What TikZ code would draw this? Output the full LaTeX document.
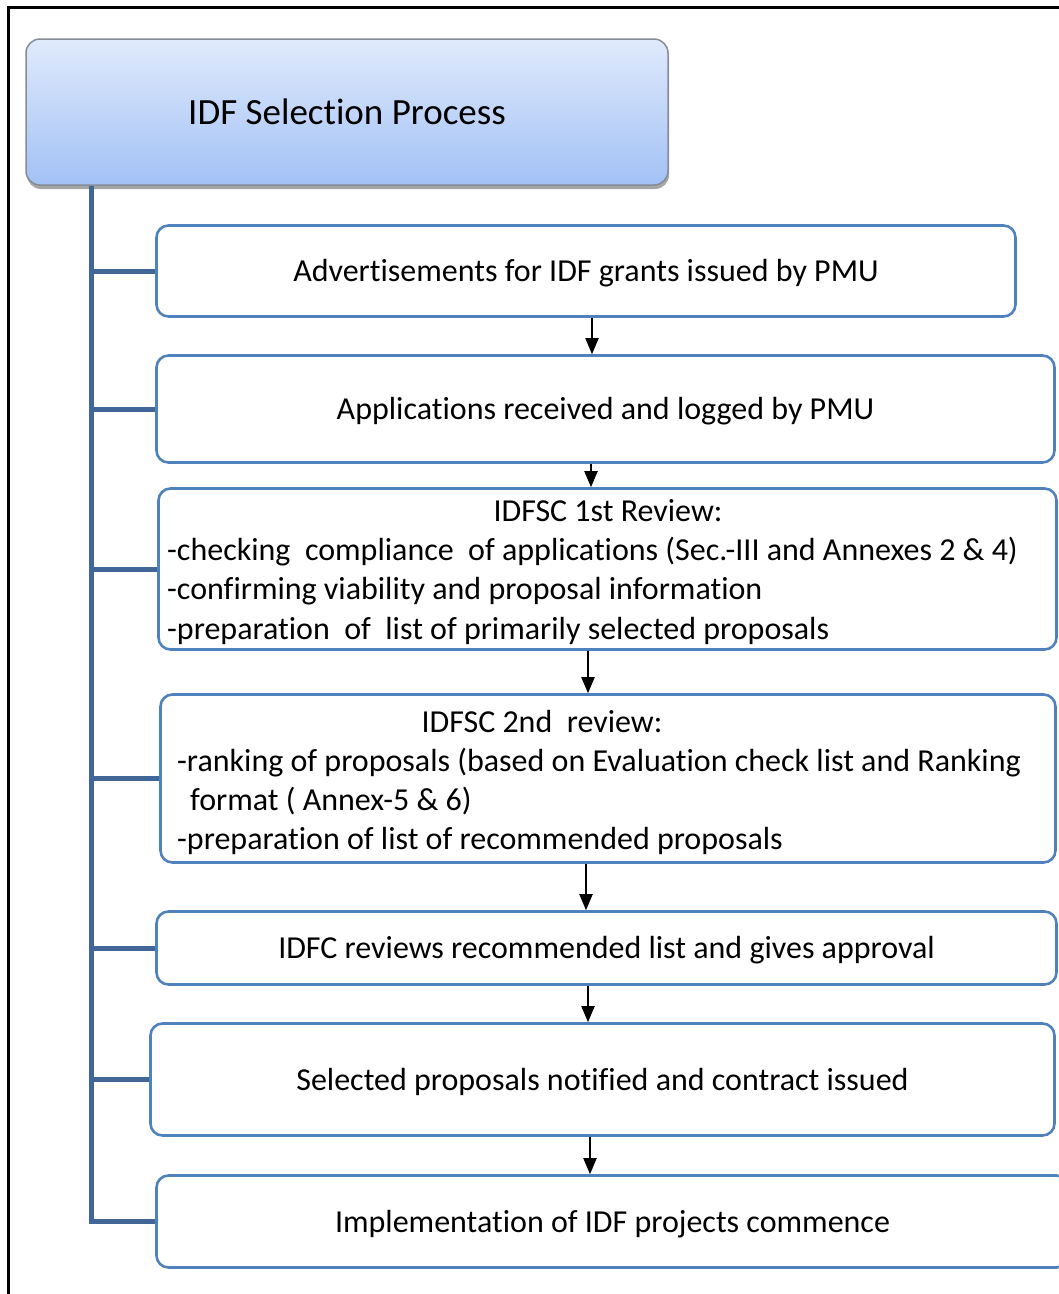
\documentclass[tikz,border=0pt]{standalone}
\usepackage{fontspec}
\setmainfont{Carlito}[Ligatures={NoCommon,NoContextual,NoRequired},RawFeature={-liga;-clig;-calt;-rlig}]
\usetikzlibrary{arrows.meta,shadows,calc}
\definecolor{boxblue}{RGB}{79,129,189}
\definecolor{spinecol}{RGB}{65,103,152}
\definecolor{titletop}{RGB}{224,234,252}
\definecolor{titlebot}{RGB}{162,193,245}
\definecolor{titleedge}{RGB}{135,140,150}
\begin{document}
\begin{tikzpicture}[x=1pt,y=-1pt,
  stepbox/.style={draw=boxblue, line width=2.6pt, rounded corners=12pt, fill=white, inner sep=0pt, text height=24pt, text depth=3pt, font=\fontsize{32}{39}\selectfont},
  txt/.style={inner sep=0pt, font=\fontsize{32}{39}\selectfont},
  titlebox/.style={draw=titleedge, line width=1.5pt, rounded corners=14pt, top color=titletop, bottom color=titlebot, inner sep=0pt,
     drop shadow={shadow xshift=1pt, shadow yshift=-4pt, opacity=0.35, fill=black}, font=\fontsize{37}{44}\selectfont},
  arr/.style={line width=1.9pt, -{Triangle[length=16pt,width=13pt]}},
  spineline/.style={draw=spinecol, line width=5pt}]
\useasboundingbox (0,0) rectangle (1059,1294);
\clip (0,0) rectangle (1059,1294);
% outer frame
\draw[line width=3pt] (8,1310) -- (8,7) -- (1070,7);
% title
\node[titlebox, minimum width=642pt, minimum height=146pt] (title) at (347,112) {IDF Selection Process};
% step boxes
\node[stepbox, minimum width=859pt, minimum height=91pt] (b1) at (586,271) {Advertisements for IDF grants issued by PMU};
\node[stepbox, minimum width=898pt, minimum height=107pt] (b2) at (605.5,409) {Applications received and logged by PMU};
\node[stepbox, minimum width=898pt, minimum height=161pt] (b3) at (607.5,569) {};
\node[stepbox, minimum width=895pt, minimum height=168pt] (b4) at (608,778.5) {};
\node[stepbox, minimum width=900pt, minimum height=73pt] (b5) at (606.5,948) {IDFC reviews recommended list and gives approval};
\node[stepbox, minimum width=904pt, minimum height=112pt] (b6) at (602.5,1079.5) {Selected proposals notified and contract issued};
\node[stepbox, minimum width=912pt, minimum height=92pt] (b7) at (612.5,1221.5) {Implementation of IDF projects commence};
% texts of box 3
\node[txt, anchor=base] (t3a) at (608,521) {IDFSC 1st Review:};
\node[txt, anchor=base west] (t3b) at (167,560) {-checking\ \ compliance\ \ of applications (Sec.-III and Annexes 2 \& 4)};
\node[txt, anchor=base west] (t3c) at (167,599.5) {-confirming viability and proposal information};
\node[txt, anchor=base west] (t3d) at (167,639) {-preparation\ \ of\ \ list of primarily selected proposals};
% texts of box 4
\node[txt, anchor=base] (t4a) at (542,732) {IDFSC 2nd\ \ review:};
\node[txt, anchor=base west] (t4b) at (177,771) {-ranking of proposals (based on Evaluation check list and Ranking};
\node[txt, anchor=base west] (t4c) at (190,810) {format ( Annex-5 \& 6)};
\node[txt, anchor=base west] (t4d) at (177,849) {-preparation of list of recommended proposals};
% spine
\coordinate (sp) at (91,0);
\draw[spineline] (title.south -| sp) -- (sp |- b7.west) -- (b7.west);
\foreach \i in {1,...,6}{\draw[spineline] (sp |- b\i.west) -- (b\i.west);}
% arrows
\coordinate (a1) at (592,0);
\coordinate (a2) at (591,0);
\coordinate (a3) at (588,0);
\coordinate (a4) at (586,0);
\coordinate (a5) at (588,0);
\coordinate (a6) at (590,0);
\draw[arr] (b1.south -| a1) -- (b2.north -| a1);
\draw[arr] (b2.south -| a2) -- (b3.north -| a2);
\draw[arr] (b3.south -| a3) -- (b4.north -| a3);
\draw[arr] (b4.south -| a4) -- (b5.north -| a4);
\draw[arr] (b5.south -| a5) -- (b6.north -| a5);
\draw[arr] (b6.south -| a6) -- (b7.north -| a6);
\end{tikzpicture}
\end{document}
